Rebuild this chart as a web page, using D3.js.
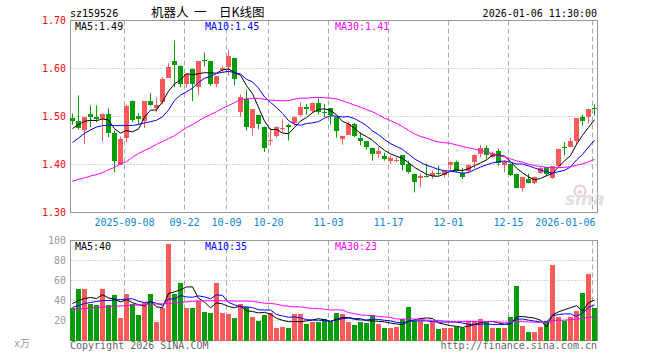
<!DOCTYPE html>
<html>
<head>
<meta charset="utf-8">
<script src="https://cdn.jsdelivr.net/npm/d3@7"></script>
<style>
body { margin: 0; background: #fff; }
text { font-family: "DejaVu Sans Mono", monospace; font-size: 10px; }
</style>
</head>
<body>
<script>
// daily bars, 2025-08-26 .. 2026-01-06
var dates = [
  "2025-08-26","2025-08-27","2025-08-28","2025-08-29",
  "2025-09-01","2025-09-02","2025-09-03","2025-09-04","2025-09-05",
  "2025-09-08","2025-09-09","2025-09-10","2025-09-11","2025-09-12",
  "2025-09-15","2025-09-16","2025-09-17","2025-09-18","2025-09-19",
  "2025-09-22","2025-09-23","2025-09-24","2025-09-25","2025-09-26",
  "2025-09-29","2025-09-30",
  "2025-10-09","2025-10-10",
  "2025-10-13","2025-10-14","2025-10-15","2025-10-16","2025-10-17",
  "2025-10-20","2025-10-21","2025-10-22","2025-10-23","2025-10-24",
  "2025-10-27","2025-10-28","2025-10-29","2025-10-30","2025-10-31",
  "2025-11-03","2025-11-04","2025-11-05","2025-11-06","2025-11-07",
  "2025-11-10","2025-11-11","2025-11-12","2025-11-13","2025-11-14",
  "2025-11-17","2025-11-18","2025-11-19","2025-11-20","2025-11-21",
  "2025-11-24","2025-11-25","2025-11-26","2025-11-27","2025-11-28",
  "2025-12-01","2025-12-02","2025-12-03","2025-12-04","2025-12-05",
  "2025-12-08","2025-12-09","2025-12-10","2025-12-11","2025-12-12",
  "2025-12-15","2025-12-16","2025-12-17","2025-12-18","2025-12-19",
  "2025-12-22","2025-12-23","2025-12-24","2025-12-25","2025-12-26",
  "2025-12-29","2025-12-30","2025-12-31",
  "2026-01-05","2026-01-06"
];

var open = [1.4965,1.490,1.472,1.506,1.500,1.494,1.506,1.465,1.400,1.455,
  1.533,1.502,1.490,1.533,1.518,1.530,1.581,1.615,1.606,1.567,
  1.598,1.561,1.618,1.615,1.567,1.596,1.603,1.622,1.509,1.537,
  1.476,1.504,1.479,1.449,1.460,1.475,1.483,1.486,1.504,1.519,
  1.512,1.529,1.509,1.518,1.499,1.453,1.462,1.485,1.455,1.449,
  1.435,1.422,1.418,1.407,1.408,1.419,1.401,1.381,1.371,1.376,
  1.377,1.383,1.379,1.398,1.406,1.382,1.3875,1.405,1.422,1.435,
  1.415,1.428,1.400,1.402,1.381,1.351,1.369,1.361,1.382,1.394,
  1.372,1.396,1.437,1.4375,1.4485,1.4985,1.4985,1.517];

var high = [1.506,1.544,1.498,1.523,1.523,1.506,1.517,1.471,1.458,1.525,
  1.533,1.507,1.532,1.549,1.540,1.582,1.611,1.658,1.606,1.589,
  1.600,1.615,1.633,1.615,1.585,1.605,1.638,1.622,1.546,1.556,
  1.515,1.504,1.479,1.476,1.479,1.494,1.485,1.500,1.529,1.526,
  1.529,1.538,1.526,1.518,1.499,1.460,1.489,1.487,1.467,1.449,
  1.435,1.436,1.425,1.419,1.415,1.419,1.408,1.381,1.381,1.402,
  1.3875,1.398,1.3875,1.406,1.408,1.393,1.400,1.422,1.440,1.440,
  1.427,1.433,1.408,1.402,1.381,1.375,1.381,1.375,1.396,1.394,
  1.396,1.433,1.446,1.456,1.497,1.504,1.516,1.525];

var low = [1.483,1.473,1.443,1.478,1.488,1.448,1.457,1.384,1.400,1.446,
  1.488,1.483,1.476,1.523,1.509,1.525,1.581,1.561,1.561,1.560,
  1.532,1.545,1.604,1.564,1.561,1.592,1.585,1.565,1.499,1.471,
  1.460,1.474,1.426,1.440,1.456,1.467,1.450,1.481,1.500,1.504,
  1.507,1.504,1.499,1.483,1.456,1.441,1.462,1.457,1.440,1.431,
  1.408,1.413,1.408,1.401,1.405,1.3875,1.381,1.342,1.353,1.373,
  1.370,1.377,1.373,1.3875,1.384,1.370,1.381,1.391,1.415,1.412,
  1.413,1.398,1.384,1.376,1.351,1.344,1.361,1.359,1.380,1.375,
  1.370,1.394,1.419,1.437,1.440,1.481,1.485,1.502];

var close = [1.490,1.476,1.498,1.500,1.494,1.506,1.465,1.408,1.454,1.521,
  1.492,1.495,1.532,1.525,1.525,1.578,1.604,1.607,1.568,1.589,
  1.567,1.615,1.617,1.567,1.585,1.601,1.626,1.578,1.540,1.478,
  1.515,1.485,1.434,1.452,1.479,1.477,1.478,1.500,1.519,1.515,
  1.529,1.510,1.507,1.503,1.469,1.460,1.485,1.460,1.450,1.436,
  1.421,1.429,1.412,1.413,1.410,1.400,1.384,1.363,1.377,1.374,
  1.382,1.381,1.3875,1.406,1.3875,1.375,1.400,1.419,1.435,1.419,
  1.424,1.403,1.406,1.379,1.351,1.375,1.361,1.375,1.392,1.381,
  1.396,1.433,1.435,1.4485,1.497,1.490,1.516,1.515];

// volume, 万
var volume = [33,52,52,37,36,52,36,46,23,47,
  37,26,39,47,19,33,97,47,58,33,
  33,40,29,28,58,28,27,23,37,34,
  24,20,26,28,13,14,13,27,27,17,
  19,19,22,19,28,27,19,16,19,18,
  26,17,13,13,14,22,34,20,20,17,
  19,12,13,13,14,13,20,20,22,20,
  13,13,13,24,55,15,9,9,14,20,
  76,24,20,24,30,48,67,33];

// averages at the left edge (their windows start before the chart)
var ma5Head = [1.475,1.483,1.490,1.492];
var ma10Head = [1.446,1.455,1.465,1.472,1.478,1.481,1.482,1.481,1.481];
var ma30Head = [1.365,1.369,1.372,1.376,1.379,1.383,1.389,1.394,1.401,1.406,
  1.415,1.423,1.429,1.435,1.442,1.448,1.454,1.460,1.469,1.477,
  1.483,1.491,1.498,1.504,1.510,1.517,1.523,1.529,1.535];
var volMa5Head = [37,40,42,43];
var volMa10Head = [33,35,37,38,39,40,40,40.5,41];
var volMa30Head = [31,31.5,32,32.5,33,33.3,33.7,34,34.5,35,
  35.3,35.5,36,36.2,36.5,36.7,37,37.5,38,38.7,
  39.3,39.5,39.7,39.8,39.8,39.7,39.6,39.5,39.3];

var priceTicks = [1.30, 1.40, 1.50, 1.60, 1.70];
var volTicks = [20, 40, 60, 80, 100];
var tickDates = ["2025-09-08","2025-09-22","2025-10-09","2025-10-20","2025-11-03",
  "2025-11-17","2025-12-01","2025-12-15","2026-01-06"];
var tickLabels = ["2025-09-08","09-22","10-09","10-20","11-03","11-17","12-01","12-15","2026-01-06"];

var upColor = "#fa5a5a", downColor = "#069c06";

var svg = d3.select("body").append("svg")
    .attr("width", 660)
    .attr("height", 360);

var x = d3.scaleBand().domain(dates).range([69, 597]);
var y = d3.scaleLinear().domain([1.30, 1.70]).range([212.5, 20.5]);
var yv = d3.scaleLinear().domain([0, 100]).range([340.5, 240.5]);

function cx(d) { return x(d) + 3.5; }

function movingAvg(vals, n, head) {
    return vals.map(function(v, i) {
        if (i < n - 1) return head[i];
        return d3.mean(vals.slice(i - n + 1, i + 1));
    });
}

var bars = dates.map(function(d, i) {
    return {date: d, o: open[i], h: high[i], l: low[i], c: close[i], v: volume[i]};
});

// header
svg.append("text").attr("x", 70).attr("y", 17).text("sz159526");
svg.append("text").attr("x", 597).attr("y", 17).attr("text-anchor", "end").text("2026-01-06 11:30:00");
[["机器人", 151], ["一", 194], ["日K线图", 219]].forEach(function(t) {
    svg.append("text").attr("x", t[1]).attr("y", 17)
        .style("font-family", "'Noto Sans CJK SC'").style("font-size", "12.5px")
        .text(t[0]);
});

// grids
function panel(top, bottom, yScale, ticks) {
    var g = svg.append("g");
    g.selectAll(".hg").data(ticks)
        .enter().append("line")
        .attr("x1", 70.5).attr("x2", 597.5)
        .attr("y1", function(d) { return Math.round(yScale(d) - 0.5) + 0.5; })
        .attr("y2", function(d) { return Math.round(yScale(d) - 0.5) + 0.5; })
        .attr("stroke", "#aaa").attr("stroke-dasharray", "1,2");
    g.selectAll(".vg").data(tickDates).enter().append("line")
        .attr("x1", function(d) { return x(d) + 1.5; })
        .attr("x2", function(d) { return x(d) + 1.5; })
        .attr("y1", top).attr("y2", bottom)
        .attr("stroke", "#aaa").attr("stroke-dasharray", "5,3");
    g.append("rect").attr("x", 70.5).attr("y", top).attr("width", 527).attr("height", bottom - top)
        .attr("fill", "none").attr("stroke", "#999");
}
panel(20.5, 212.5, y, [1.40, 1.50, 1.60]);
panel(240.5, 340.5, yv, [20, 40, 60, 80]);

// sina watermark
var logo = svg.append("g").attr("opacity", 0.55);
logo.append("circle").attr("cx", 580).attr("cy", 191).attr("r", 5.5)
    .attr("fill", "none").attr("stroke", "#e8a0a0").attr("stroke-width", 2);
logo.append("circle").attr("cx", 580).attr("cy", 192).attr("r", 2).attr("fill", "#e8a0a0");
logo.append("text").attr("x", 565).attr("y", 205)
    .style("font-family", "'DejaVu Sans'").style("font-size", "17px")
    .style("font-weight", "bold").style("font-style", "italic")
    .attr("fill", "#c8c8c8").text("sina");

// axis labels
svg.selectAll(".pl").data(priceTicks).enter().append("text")
    .attr("x", 66).attr("y", function(d) { return y(d) + 3.5; })
    .attr("text-anchor", "end").attr("fill", "#f00")
    .text(function(d) { return d.toFixed(2); });

svg.selectAll(".vl").data(volTicks).enter().append("text")
    .attr("x", 66).attr("y", function(d) { return yv(d) + 3.5; })
    .attr("text-anchor", "end").attr("fill", "#999")
    .text(function(d) { return d; });
svg.append("text").attr("x", 14).attr("y", 347).attr("fill", "#999")
    .style("font-family", "'DejaVu Sans Mono','Noto Sans CJK SC'").text("x万");

svg.selectAll(".dl").data(tickDates).enter().append("text")
    .attr("x", function(d, i) { return i === tickDates.length - 1 ? x(d) + 4.5 : x(d) + 1.5; })
    .attr("y", 226)
    .attr("text-anchor", function(d, i) { return i === tickDates.length - 1 ? "end" : "middle"; })
    .attr("fill", "#0b84d8")
    .text(function(d, i) { return tickLabels[i]; });

// candles
var candle = svg.append("g").selectAll("g").data(bars).enter().append("g");
candle.append("line")
    .attr("x1", function(d) { return cx(d.date); })
    .attr("x2", function(d) { return cx(d.date); })
    .attr("y1", function(d) { return y(d.h); })
    .attr("y2", function(d) { return y(d.l); })
    .attr("stroke", function(d) { return d.c >= d.o ? upColor : downColor; });
candle.append("rect")
    .attr("x", function(d) { return x(d.date) + 1; })
    .attr("width", 5)
    .attr("y", function(d) { return y(Math.max(d.o, d.c)); })
    .attr("height", function(d) { return Math.max(1, Math.abs(y(d.o) - y(d.c))); })
    .attr("fill", function(d) { return d.c >= d.o ? upColor : downColor; })
    .attr("shape-rendering", "crispEdges");

// volume bars
svg.append("g").selectAll("rect").data(bars).enter().append("rect")
    .attr("x", function(d) { return x(d.date) + 1; })
    .attr("width", 5)
    .attr("y", function(d) { return yv(d.v); })
    .attr("height", function(d) { return yv(0) - yv(d.v); })
    .attr("fill", function(d) { return d.c >= d.o ? upColor : downColor; })
    .attr("shape-rendering", "crispEdges");

// moving averages
var maSpecs = [
    {n: 5, color: "#000", head: ma5Head, vhead: volMa5Head, lx: 75},
    {n: 10, color: "#00f", head: ma10Head, vhead: volMa10Head, lx: 205},
    {n: 30, color: "#f0f", head: ma30Head, vhead: volMa30Head, lx: 335}
];

maSpecs.forEach(function(s) {
    var pm = movingAvg(close, s.n, s.head);
    var vm = movingAvg(volume, s.n, s.vhead);

    var line = d3.line().x(function(d, i) { return cx(dates[i]); });
    svg.append("path").datum(pm)
        .attr("d", line.y(function(d) { return y(d); }))
        .attr("fill", "none").attr("stroke", s.color).attr("stroke-width", 1);
    svg.append("path").datum(vm)
        .attr("d", line.y(function(d) { return yv(d); }))
        .attr("fill", "none").attr("stroke", s.color).attr("stroke-width", 1);

    svg.append("text").attr("x", s.lx).attr("y", 30).attr("fill", s.color)
        .text("MA" + s.n + ":" + pm[pm.length - 1].toFixed(2));
    svg.append("text").attr("x", s.lx).attr("y", 249.5).attr("fill", s.color)
        .text("MA" + s.n + ":" + Math.floor(vm[vm.length - 1]));
});

// footer
svg.append("text").attr("x", 70).attr("y", 349).attr("fill", "#666").text("Copyright 2026 SINA.COM");
svg.append("text").attr("x", 597).attr("y", 349).attr("text-anchor", "end").attr("fill", "#666")
    .text("http://finance.sina.com.cn");
</script>
</body>
</html>
